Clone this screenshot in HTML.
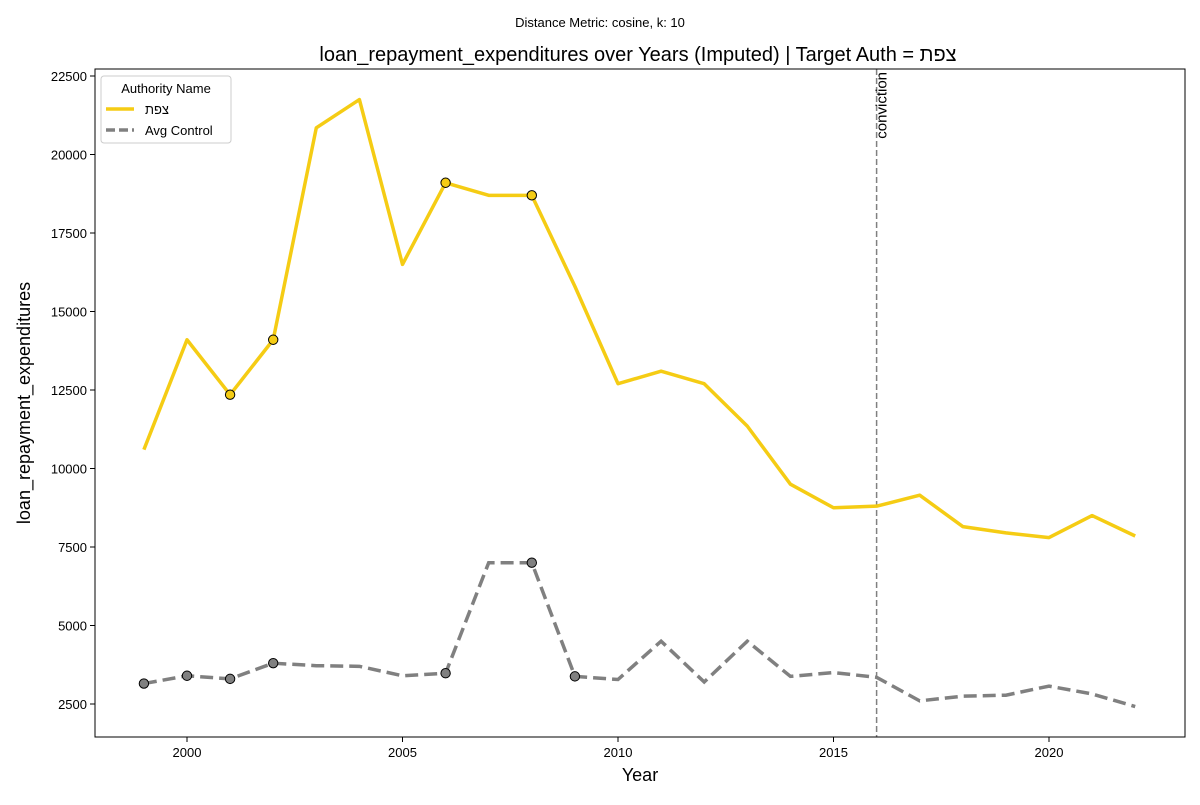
<!DOCTYPE html>
<html><head><meta charset="utf-8">
<style>
html,body{margin:0;padding:0;background:#fff;}
svg text{font-family:"Liberation Sans","DejaVu Sans",sans-serif;}
</style></head>
<body>
<svg id="chart" width="1200" height="800" xmlns="http://www.w3.org/2000/svg">
<rect width="1200" height="800" fill="#fff"/>
<text x="600" y="27" text-anchor="middle" font-size="13">Distance Metric: cosine, k: 10</text>
<text x="638" y="61" text-anchor="middle" font-size="20">loan_repayment_expenditures over Years (Imputed) | Target Auth = צפת</text>
<g id="grid"></g>
<g id="series"></g>
<rect x="95" y="69" width="1090" height="668" fill="none" stroke="#000" stroke-width="1"/>
<g id="axes"></g>
<text x="640" y="781" text-anchor="middle" font-size="18">Year</text>
<text transform="translate(30,403) rotate(-90)" text-anchor="middle" font-size="18">loan_repayment_expenditures</text>
<g>
<rect x="101" y="76" width="130" height="67" rx="3" fill="#fff" stroke="#ccc"/>
<text x="166" y="93" text-anchor="middle" font-size="13">Authority Name</text>
<line x1="106" y1="109" x2="134" y2="109" stroke="#f5cc14" stroke-width="3.5"/>
<text x="145" y="114" font-size="13">צפת</text>
<line x1="106" y1="130" x2="134" y2="130" stroke="#808080" stroke-width="3.5" stroke-dasharray="9,4"/>
<text x="145" y="135" font-size="13">Avg Control</text>
</g>
</svg>
<script>
const years=[1999,2000,2001,2002,2003,2004,2005,2006,2007,2008,2009,2010,2011,2012,2013,2014,2015,2016,2017,2018,2019,2020,2021,2022];
const targetValues=[10600,14100,12350,14100,20850,21750,16500,19100,18700,18700,15800,12700,13100,12700,11350,9500,8750,8800,9150,8150,7950,7800,8500,7850];
const controlValues=[3150,3400,3300,3800,3720,3700,3400,3480,7000,7000,3380,3280,4500,3200,4500,3380,3500,3350,2600,2750,2780,3070,2820,2420];
const targetMarkerYears=[2001,2002,2006,2008];
const controlMarkerYears=[1999,2000,2001,2002,2006,2008,2009];
const xTicks=[2000,2005,2010,2015,2020];
const yTicks=[2500,5000,7500,10000,12500,15000,17500,20000,22500];
const eventYear=2016;
const eventLabel="conviction";

const NS="http://www.w3.org/2000/svg";
const X=y=>187+(y-2000)*43.1;
const Y=v=>704-(v-2500)*0.0314;
function mk(tag,attrs,parent){const e=document.createElementNS(NS,tag);for(const k in attrs)e.setAttribute(k,attrs[k]);parent.appendChild(e);return e;}
const axes=document.getElementById('axes'),series=document.getElementById('series');

xTicks.forEach(t=>{
  const l=mk('line',{x1:X(t),x2:X(t),y1:737,y2:742,stroke:'#000'},axes);
  
  
  const tx=mk('text',{x:X(t),y:757,'text-anchor':'middle','font-size':13},axes);tx.textContent=t;
  
  
});
yTicks.forEach(t=>{
  const l=mk('line',{x1:90,x2:95,y1:Y(t),y2:Y(t),stroke:'#000'},axes);
  
  
  const tx=mk('text',{x:87,y:Y(t)+5,'text-anchor':'end','font-size':13},axes);tx.textContent=t;
  
  
});

const ev=mk('line',{x1:X(eventYear),x2:X(eventYear),y1:69,y2:737,stroke:'#808080','stroke-width':1.5,'stroke-dasharray':'6,3'},series);


const evt=mk('text',{transform:`translate(${X(eventYear)+10},72) rotate(-90)`,'text-anchor':'end','font-size':15},series);
evt.textContent=eventLabel;



function pts(vals){return years.map((y,i)=>X(y)+','+Y(vals[i])).join(' ');}
const tl=mk('polyline',{points:pts(targetValues),fill:'none',stroke:'#f5cc14','stroke-width':3.5,'stroke-linejoin':'round'},series);


const cl=mk('polyline',{points:pts(controlValues),fill:'none',stroke:'#808080','stroke-width':3.5,'stroke-dasharray':'13,6'},series);



targetMarkerYears.forEach(y=>{
  const v=targetValues[years.indexOf(y)];
  const c=mk('circle',{cx:X(y),cy:Y(v),r:4.7,fill:'#f5cc14',stroke:'#000','stroke-width':1},series);
  
  
});
controlMarkerYears.forEach(y=>{
  const v=controlValues[years.indexOf(y)];
  const c=mk('circle',{cx:X(y),cy:Y(v),r:4.7,fill:'#808080',stroke:'#000','stroke-width':1},series);
  
  
});
</script>
</body></html>
